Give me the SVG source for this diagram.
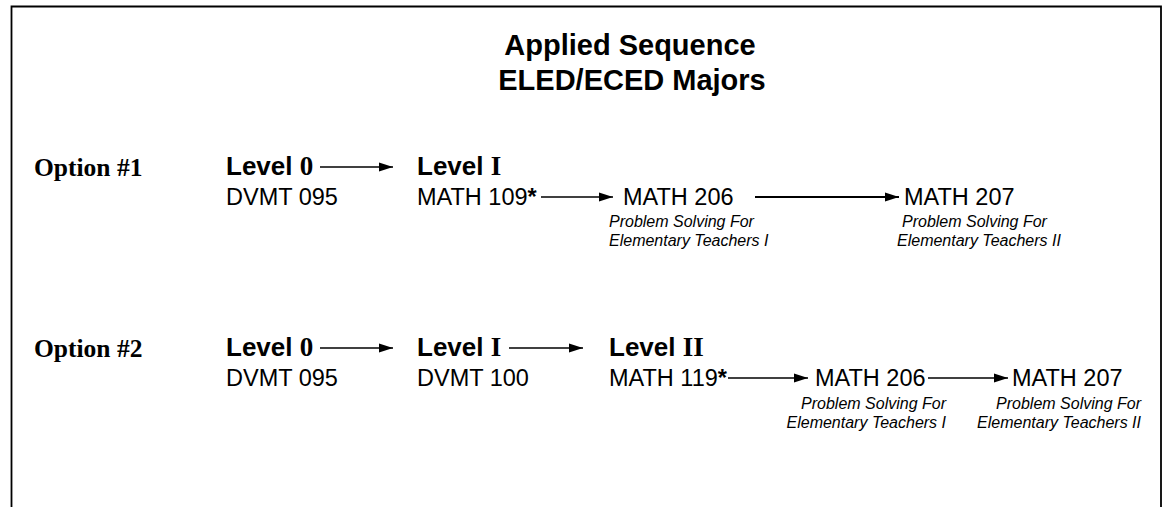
<svg xmlns="http://www.w3.org/2000/svg" width="1165" height="507" viewBox="0 0 1165 507">
  <defs>
    <marker id="ah" markerUnits="userSpaceOnUse" markerWidth="14" markerHeight="11" refX="14" refY="5.5" orient="auto">
      <path d="M0,1 L14,5.5 L0,10 z" fill="#000"/>
    </marker>
    <style>
      .title { font-family: "Liberation Sans", Arial, sans-serif; font-weight: bold; font-size: 29px; fill: #000; text-anchor: middle; }
      .opt { font-family: "Liberation Serif", "Times New Roman", serif; font-weight: bold; font-size: 25.5px; fill: #000; }
      .lvl { font-family: "Liberation Sans", Arial, sans-serif; font-weight: bold; font-size: 26px; fill: #000; }
      .rom { font-family: "Liberation Serif", "Times New Roman", serif; font-weight: bold; font-size: 27px; }
      .course { font-family: "Liberation Sans", Arial, sans-serif; font-size: 23.5px; fill: #000; }
      .star { font-weight: bold; }
      .desc { font-family: "Liberation Sans", Arial, sans-serif; font-style: italic; font-size: 16px; fill: #000; }
      .end { text-anchor: end; }
      .conn line { stroke: #000; stroke-width: 1.6; marker-end: url(#ah); }
      .conn line.thick { stroke-width: 2.2; }
      .frame { fill: none; stroke: #000; stroke-width: 1.8; }
    </style>
  </defs>
  <rect x="0" y="0" width="1165" height="507" fill="#fff"/>
  <path class="frame" d="M11.5,510 L11.5,6.5 L1161,6.5 L1161,510"/>

  <g id="title">
    <text class="title" x="630" y="55">Applied Sequence</text>
    <text class="title" x="632" y="90">ELED/ECED Majors</text>
  </g>

  <!-- Option 1 -->
  <g id="option1-label"><text class="opt" x="34" y="176">Option #1</text></g>
  <g id="o1-level0">
    <text class="lvl" x="226" y="175">Level <tspan class="rom">0</tspan></text>
    <text class="course" x="226" y="205">DVMT 095</text>
  </g>
  <g id="o1-level1">
    <text class="lvl" x="417" y="175">Level <tspan class="rom">I</tspan></text>
    <text class="course" x="417" y="205">MATH 109<tspan class="star">*</tspan></text>
  </g>
  <g id="o1-math206">
    <text class="course" x="623" y="205">MATH 206</text>
    <text class="desc" x="609" y="227">Problem Solving For</text>
    <text class="desc" x="609" y="246">Elementary Teachers I</text>
  </g>
  <g id="o1-math207">
    <text class="course" x="904" y="205">MATH 207</text>
    <text class="desc" x="902" y="227">Problem Solving For</text>
    <text class="desc" x="897" y="246">Elementary Teachers II</text>
  </g>

  <!-- Option 2 -->
  <g id="option2-label"><text class="opt" x="34" y="357">Option #2</text></g>
  <g id="o2-level0">
    <text class="lvl" x="226" y="356">Level <tspan class="rom">0</tspan></text>
    <text class="course" x="226" y="386">DVMT 095</text>
  </g>
  <g id="o2-level1">
    <text class="lvl" x="417" y="356">Level <tspan class="rom">I</tspan></text>
    <text class="course" x="417" y="386">DVMT 100</text>
  </g>
  <g id="o2-level2">
    <text class="lvl" x="609" y="356">Level <tspan class="rom">II</tspan></text>
    <text class="course" x="609" y="386">MATH 119<tspan class="star">*</tspan></text>
  </g>
  <g id="o2-math206">
    <text class="course" x="815" y="386">MATH 206</text>
    <text class="desc end" x="946" y="409">Problem Solving For</text>
    <text class="desc end" x="946" y="428">Elementary Teachers I</text>
  </g>
  <g id="o2-math207">
    <text class="course" x="1012" y="386">MATH 207</text>
    <text class="desc end" x="1141" y="409">Problem Solving For</text>
    <text class="desc end" x="1141" y="428">Elementary Teachers II</text>
  </g>

  <g id="connectors" class="conn">
    <line x1="320" y1="167" x2="393" y2="167"/>
    <line x1="541" y1="197" x2="613" y2="197"/>
    <line class="thick" x1="755" y1="197" x2="899" y2="197"/>
    <line x1="320" y1="348" x2="393" y2="348"/>
    <line x1="509" y1="348" x2="583" y2="348"/>
    <line x1="728" y1="378" x2="808" y2="378"/>
    <line x1="928" y1="378" x2="1008" y2="378"/>
  </g>
</svg>
